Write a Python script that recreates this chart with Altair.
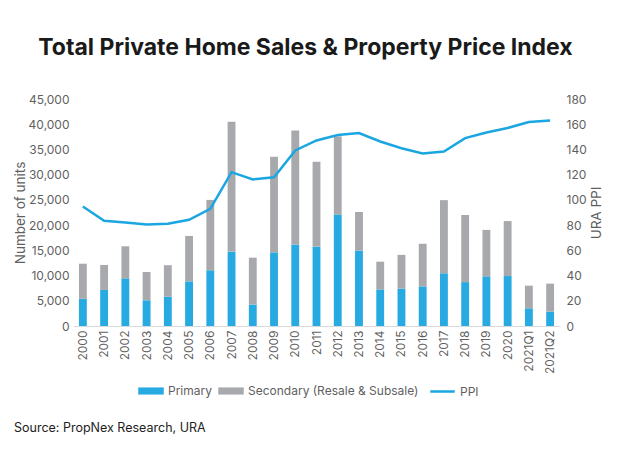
import altair as alt
import pandas as pd

years = ["2000", "2001", "2002", "2003", "2004", "2005", "2006", "2007", "2008",
         "2009", "2010", "2011", "2012", "2013", "2014", "2015", "2016", "2017",
         "2018", "2019", "2020", "2021Q1", "2021Q2"]
primary = [5400, 7150, 9450, 5100, 5800, 8850, 11050, 14750, 4250, 14600, 16150,
           15750, 22100, 14950, 7250, 7400, 7850, 10450, 8700, 9850, 9900, 3500, 2850]
total = [12350, 12100, 15800, 10700, 12050, 17850, 25000, 40500, 13550, 33550, 38750,
         32550, 37600, 22600, 12750, 14100, 16300, 24950, 22000, 19050, 20800, 8000, 8400]
secondary = [t - p for t, p in zip(total, primary)]
ppi = [94.7, 83.4, 82.0, 80.4, 81.0, 84.2, 92.9, 122.0, 116.2, 118.0, 139.2, 147.1,
       151.4, 153.0, 146.3, 141.0, 136.8, 138.4, 149.0, 153.5, 157.0, 161.7, 163.0]

bar_series = ["Primary", "Secondary (Resale & Subsale)"]
bar_colors = ["#27A9E1", "#A7A9AC"]
line_series = ["PPI"]
line_colors = ["#1BA6E2"]
source_text = "Source: PropNex Research, URA"
title_text = "Total Private Home Sales & Property Price Index"

bars = pd.DataFrame({
    "year": years * 2,
    "type": [bar_series[0]] * len(years) + [bar_series[1]] * len(years),
    "order": [0] * len(years) + [1] * len(years),
    "value": primary + secondary,
})
line_df = pd.DataFrame({"year": years, "type": line_series * len(years), "ppi": ppi})

FONT = "Inter"
GRAY = "#5f5f5f"
RECT = "M-1,-0.28H1V0.28H-1Z"

bar_legend = alt.Legend(
    orient="none", legendX=65, legendY=279, direction="horizontal", title=None,
    symbolType=RECT, symbolSize=650, symbolStrokeWidth=0, labelFontSize=12,
    labelColor=GRAY, labelFont=FONT, columnPadding=6, labelOffset=4, labelLimit=400,
)
line_legend = alt.Legend(
    orient="none", legendX=356, legendY=279, direction="horizontal", title=None,
    symbolType="M-1,0H1", symbolSize=600, symbolStrokeWidth=2.5, labelFontSize=12,
    labelColor=GRAY, labelFont=FONT, labelOffset=4,
)

x_enc = alt.X("year:N", sort=years, title=None,
              scale=alt.Scale(paddingInner=0.63, paddingOuter=0.28),
              axis=alt.Axis(labelAngle=270, labelAlign="right", labelBaseline="middle",
                            ticks=False, domainColor="#d9d9d9", labelColor=GRAY,
                            labelFont=FONT, labelFontSize=12, labelPadding=4))

bar_layer = alt.Chart(bars).mark_bar().encode(
    x=x_enc,
    y=alt.Y("value:Q", title="Number of units", scale=alt.Scale(domain=[0, 45000]),
            axis=alt.Axis(values=list(range(0, 45001, 5000)), format=",.0f", grid=False,
                          domain=False, ticks=False, labelColor=GRAY, titleColor=GRAY,
                          labelFont=FONT, titleFont=FONT, labelFontSize=12,
                          titleFontSize=13.5, titleFontWeight="normal",
                          labelPadding=4, titlePadding=1)),
    color=alt.Color("type:N", scale=alt.Scale(domain=bar_series, range=bar_colors),
                    legend=bar_legend),
    order=alt.Order("order:Q"),
)

line_layer = alt.Chart(line_df).mark_line(strokeWidth=2.5).encode(
    x=x_enc,
    y=alt.Y("ppi:Q", title="URA PPI", scale=alt.Scale(domain=[0, 180]),
            axis=alt.Axis(orient="right", values=list(range(0, 181, 20)), grid=False,
                          domain=False, ticks=False, labelColor=GRAY, titleColor=GRAY,
                          labelFont=FONT, titleFont=FONT, labelFontSize=12,
                          titleFontSize=13.5, titleFontWeight="normal",
                          titleAngle=270, labelPadding=6, titlePadding=17)),
    stroke=alt.Stroke("type:N", scale=alt.Scale(domain=line_series, range=line_colors),
                      legend=line_legend),
)

source_layer = alt.Chart(pd.DataFrame({"t": [source_text]})).mark_text(
    align="left", baseline="middle", fontSize=12.5, font=FONT, color="#222222"
).encode(text="t:N", x=alt.value(-59), y=alt.value(329))

chart = alt.layer(bar_layer, line_layer, source_layer).resolve_scale(
    y="independent"
).properties(
    width=487, height=227,
    title=alt.TitleParams(title_text, font=FONT, fontSize=23, fontWeight="bold",
                          color="#1a1a1a", anchor="middle", dx=-11, offset=33),
    padding={"left": 5, "top": 29, "right": 5, "bottom": 5},
).configure_view(stroke=None)

chart.save("out.html", embed_options={"renderer": "svg", "actions": False})
